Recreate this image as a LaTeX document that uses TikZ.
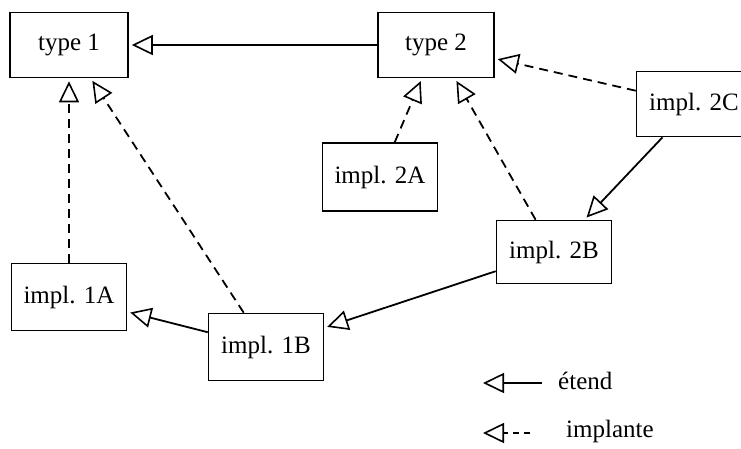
\documentclass[tikz,border=0pt]{standalone}
\usepackage{fontspec}
\setmainfont{Liberation Serif}
\usetikzlibrary{arrows.meta, positioning}

\begin{document}
\begin{tikzpicture}[x=1pt,y=-1pt,
    >={Triangle[open,length=21pt,width=20pt,line width=1.6pt]},
    box/.style={draw, line width=1.6pt, minimum width=115pt, minimum height=65pt,
                font=\fontsize{25}{28}\selectfont, inner sep=2pt},
    extends/.style={->, line width=1.8pt, shorten >=3pt},
    implements/.style={->, line width=1.8pt, shorten >=3pt, dash pattern=on 9pt off 6pt},
    legend/.style={font=\fontsize{25}{28}\selectfont, anchor=west, inner sep=0pt}]

   \useasboundingbox (0,0) rectangle (741,448);

   % Nodes
      \node[box, minimum width=118pt]  (t1)  at (69,45)   {type 1};
      \node[box, minimum width=116pt]  (t2)  at (436,45)  {type 2};
      \node[box]                       (i2C) at (694,104) {impl. 2C};
      \node[box, minimum height=68pt]  (i2A) at (380,177) {impl. 2A};
      \node[box, minimum height=63pt]  (i2B) at (554,252) {impl. 2B};
      \node[box, minimum height=67pt]  (i1A) at (69,297)  {impl. 1A};
      \node[box, minimum height=67pt]  (i1B) at (266,347) {impl. 1B};

   % Paths
      \path (t2)  edge [extends]    (t1);
      \path (i2A) edge [implements] (t2);
      \path (i2B) edge [implements] (t2)
                  edge [extends]    (i1B);
      \path (i2C) edge [implements] (t2)
                  edge [extends]    (i2B);
      \path (i1A) edge [implements] (t1);
      \path (i1B) edge [implements] (t1)
                  edge [extends]    (i1A);

   % Legend
      \coordinate (ext1) at (542,383);
      \coordinate (ext2) at (483,383);
      \coordinate (imp1) at (530,433);
      \coordinate (imp2) at (483,433);
      \path (ext1) edge [extends, shorten >=0pt] (ext2);
      \path (imp1) edge [implements, shorten >=0pt, dash pattern=on 6pt off 5pt] (imp2);
      \node[legend] (lext) at (558,381) {étend};
      \node[legend] (limp) at (566,431) {implante};
\end{tikzpicture}
\end{document}
